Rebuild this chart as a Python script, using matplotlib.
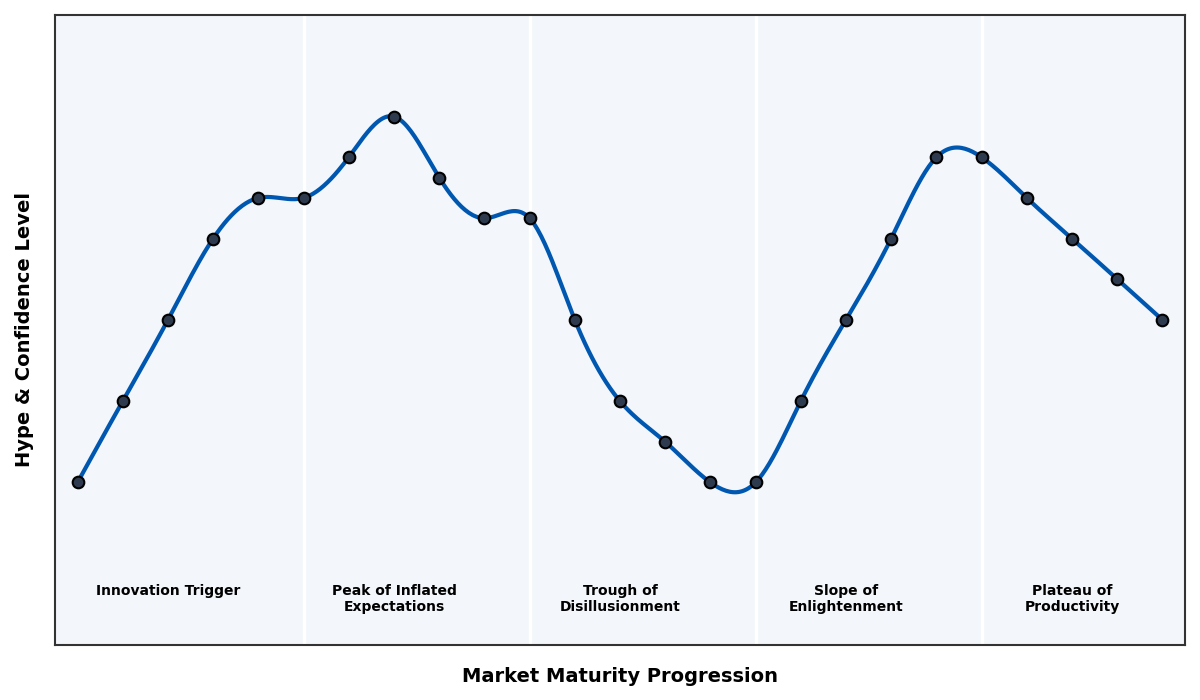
import numpy as np
import matplotlib
matplotlib.use("Agg")
import matplotlib.pyplot as plt

# data
steps = list(range(25))
hype = [1, 3, 5, 7, 8, 8, 9, 10, 8.5, 7.5, 7.5, 5, 3, 2, 1, 1, 3, 5, 7, 9, 9, 8, 7, 6, 5]
phase_names = ["Innovation Trigger", "Peak of Inflated\nExpectations",
               "Trough of\nDisillusionment", "Slope of\nEnlightenment",
               "Plateau of\nProductivity"]
phase_centers = [2, 7, 12, 17, 22]
phase_bounds = [5, 10, 15, 20]


def natural_spline(x, y, xs):
    # plain natural cubic spline, no scipy here
    x = np.asarray(x, float)
    y = np.asarray(y, float)
    n = len(x)
    h = np.diff(x)
    A = np.zeros((n, n))
    b = np.zeros(n)
    A[0, 0] = 1
    A[-1, -1] = 1
    for i in range(1, n - 1):
        A[i, i - 1] = h[i - 1]
        A[i, i] = 2 * (h[i - 1] + h[i])
        A[i, i + 1] = h[i]
        b[i] = 6 * ((y[i + 1] - y[i]) / h[i] - (y[i] - y[i - 1]) / h[i - 1])
    M = np.linalg.solve(A, b)
    idx = np.clip(np.searchsorted(x, xs) - 1, 0, n - 2)
    x0, x1 = x[idx], x[idx + 1]
    hh = x1 - x0
    t0 = x1 - xs
    t1 = xs - x0
    return (M[idx] * t0**3 / (6 * hh) + M[idx + 1] * t1**3 / (6 * hh)
            + (y[idx] / hh - M[idx] * hh / 6) * t0
            + (y[idx + 1] / hh - M[idx + 1] * hh / 6) * t1)


xs = np.linspace(steps[0], steps[-1], 600)
ys = natural_spline(steps, hype, xs)

fig = plt.figure(figsize=(12, 7), dpi=100)
ax = fig.add_axes([0.0458, 0.0786, 0.9417, 0.9])
ax.set_facecolor("#f3f6fa")

for b in phase_bounds:
    ax.axvline(b, color="white", lw=2.5, zorder=1)

ax.plot(xs, ys, color="#0057b0", lw=3, zorder=2)
ax.scatter(steps, hype, s=70, color="#2e3b4e", edgecolor="black", linewidth=1.5, zorder=3)

for c, name in zip(phase_centers, phase_names):
    ax.text(c, -1.5, name, ha="center", va="top", fontsize=10, fontweight="bold",
            linespacing=1.15)

ax.set_xlim(-0.5, 24.5)
ax.set_ylim(-3, 12.5)
ax.set_xticks([])
ax.set_yticks([])
for s in ax.spines.values():
    s.set_color("#333333")
    s.set_linewidth(1.5)

ax.set_xlabel("Market Maturity Progression", fontsize=14, fontweight="bold", labelpad=16)
ax.set_ylabel("Hype & Confidence Level", fontsize=14, fontweight="bold", labelpad=15)

fig.savefig("out.png", dpi=100)
